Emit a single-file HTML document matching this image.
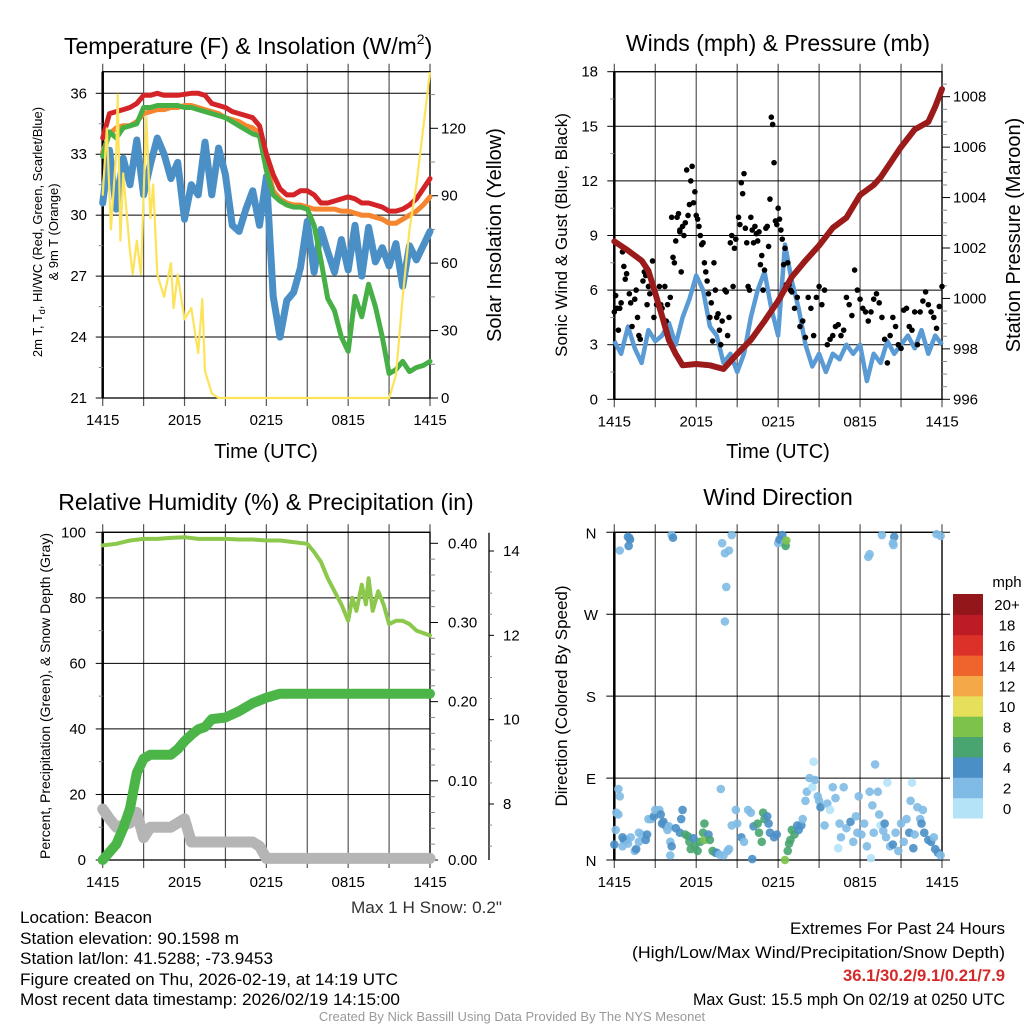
<!DOCTYPE html>
<html><head><meta charset="utf-8"><style>
html,body{margin:0;padding:0;background:#fff;}
svg{display:block;font-family:"Liberation Sans",Arial,sans-serif;}
</style></head><body>
<svg id="c" width="1024" height="1024" viewBox="0 0 1024 1024" xmlns="http://www.w3.org/2000/svg">
<rect width="1024" height="1024" fill="#fff"/>
<g id="g"></g>
<text x="64" y="54" font-size="23">Temperature (F) &amp; Insolation (W/m<tspan font-size="14" dy="-10">2</tspan><tspan dy="10">)</tspan></text>
<text x="778" y="51" font-size="23" text-anchor="middle">Winds (mph) &amp; Pressure (mb)</text>
<text x="266" y="510" font-size="23" text-anchor="middle">Relative Humidity (%) &amp; Precipitation (in)</text>
<text x="778" y="505" font-size="23" text-anchor="middle">Wind Direction</text>
<text x="266" y="458" font-size="20" text-anchor="middle">Time (UTC)</text>
<text x="778" y="458" font-size="20" text-anchor="middle">Time (UTC)</text>
<text transform="translate(42,232) rotate(-90)" font-size="13" text-anchor="middle">2m T, T<tspan font-size="9" dy="3">d</tspan><tspan dy="-3">, HI/WC (Red, Green, Scarlet/Blue)</tspan></text>
<text transform="translate(58,232) rotate(-90)" font-size="13" text-anchor="middle">&amp; 9m T (Orange)</text>
<text transform="translate(501,235) rotate(-90)" font-size="20" text-anchor="middle">Solar Insolation (Yellow)</text>
<text transform="translate(567,235) rotate(-90)" font-size="17" text-anchor="middle">Sonic Wind &amp; Gust (Blue, Black)</text>
<text transform="translate(1020,235) rotate(-90)" font-size="20" text-anchor="middle">Station Pressure (Maroon)</text>
<text transform="translate(50,696) rotate(-90)" font-size="14" text-anchor="middle">Percent, Precipitation (Green), &amp; Snow Depth (Gray)</text>
<text transform="translate(567,696) rotate(-90)" font-size="17" text-anchor="middle">Direction (Colored By Speed)</text>
<text x="351" y="913" font-size="17" textLength="151" lengthAdjust="spacingAndGlyphs" fill="#333">Max 1 H Snow: 0.2"</text>
<g font-size="17">
<text x="20" y="923" textLength="132" lengthAdjust="spacingAndGlyphs">Location: Beacon</text>
<text x="20" y="944" textLength="219" lengthAdjust="spacingAndGlyphs">Station elevation: 90.1598 m</text>
<text x="20" y="964" textLength="253" lengthAdjust="spacingAndGlyphs">Station lat/lon: 41.5288; -73.9453</text>
<text x="20" y="985" textLength="378" lengthAdjust="spacingAndGlyphs">Figure created on Thu, 2026-02-19, at 14:19 UTC</text>
<text x="20" y="1005" textLength="380" lengthAdjust="spacingAndGlyphs">Most recent data timestamp: 2026/02/19 14:15:00</text>
</g>
<g font-size="17">
<text x="790" y="934" textLength="215" lengthAdjust="spacingAndGlyphs">Extremes For Past 24 Hours</text>
<text x="632" y="958" textLength="373" lengthAdjust="spacingAndGlyphs">(High/Low/Max Wind/Precipitation/Snow Depth)</text>
<text x="843" y="981" textLength="162" lengthAdjust="spacingAndGlyphs" fill="#d42a2a" font-weight="bold">36.1/30.2/9.1/0.21/7.9</text>
<text x="693" y="1005" textLength="312" lengthAdjust="spacingAndGlyphs">Max Gust: 15.5 mph On 02/19 at 0250 UTC</text>
</g>
<text x="512" y="1021" font-size="13" fill="#999" text-anchor="middle">Created By Nick Bassill Using Data Provided By The NYS Mesonet</text>
</svg>
<script>
// ---------- data ----------
const xTickLabels=["1415","2015","0215","0815","1415"];
const tHalf=[0,0.5,1,1.5,2,2.5,3,3.5,4,4.5,5,5.5,6,6.5,7,7.5,8,8.5,9,9.5,10,10.5,11,11.5,12,12.5,13,13.5,14,14.5,15,15.5,16,16.5,17,17.5,18,18.5,19,19.5,20,20.5,21,21.5,22,22.5,23,23.5,24];
const tempRed=[33.8,35.0,35.1,35.2,35.3,35.5,35.9,35.9,36.0,35.9,35.9,35.9,35.95,36.0,36.0,35.9,35.5,35.4,35.3,35.1,35.0,34.9,34.8,34.4,33.0,32.0,31.3,31.0,31.0,31.2,31.2,31.0,30.6,30.6,30.7,30.8,30.9,30.8,30.6,30.6,30.5,30.4,30.2,30.2,30.3,30.5,30.8,31.3,31.8];
const tempOrange=[33.1,34.0,34.3,34.4,34.4,34.6,35.0,35.1,35.2,35.2,35.3,35.3,35.4,35.4,35.3,35.2,35.1,35.0,34.8,34.7,34.6,34.4,34.3,34.0,32.5,31.2,30.8,30.6,30.5,30.5,30.4,30.3,30.3,30.3,30.3,30.2,30.2,30.1,30.0,30.0,29.9,29.8,29.6,29.6,29.8,30.0,30.2,30.5,30.9];
const tempGreen=[32.9,34.1,33.8,34.3,34.4,34.5,35.3,35.3,35.4,35.4,35.4,35.4,35.3,35.3,35.2,35.1,35.0,34.9,34.8,34.6,34.4,34.2,34.0,33.9,32.2,31.0,30.7,30.5,30.4,30.4,30.3,29.5,27.8,25.9,25.3,24.0,23.3,26.0,25.0,26.6,25.5,24.0,22.2,22.4,22.8,22.3,22.5,22.6,22.8];
const tempBlue=[30.6,33.2,30.3,32.8,31.5,33.7,31.0,32.5,33.8,33.0,31.8,32.6,29.8,31.5,31.0,33.6,31.0,33.3,32.0,29.5,29.2,30.3,31.2,29.5,31.9,26.0,24.0,25.8,26.2,27.4,29.7,27.2,29.3,28.2,27.2,28.8,27.3,29.5,27.0,29.4,27.7,28.4,27.5,28.6,26.5,28.5,27.8,28.5,29.2];
const solarT=[0,0.3,0.6,1,1.1,1.3,1.5,2,2.2,2.5,2.8,3,3.2,3.5,3.7,4,4.5,5,5.2,5.5,6,6.5,7,7.3,7.5,8,8.5,21,21.5,22,22.5,23,23.5,24];
const solarV=[90,120,75,110,135,70,100,65,55,70,55,90,125,80,95,55,45,60,40,55,35,40,20,44,12,2,0,0,10,45,75,95,120,145];
const pressT=[0,1,2,2.5,3,3.5,4,4.5,5,6,7,8,9,10,11,12,13,14,15,16,17,18,18.5,19,19.5,20,21,22,23,23.5,24];
const pressV=[1002.26,1001.9,1001.5,1001.1,1000.2,999.3,998.35,997.8,997.35,997.4,997.35,997.2,997.8,998.35,999.1,999.9,1000.85,1001.5,1002.1,1002.8,1003.2,1004.1,1004.3,1004.5,1004.8,1005.2,1006.0,1006.7,1007.0,1007.6,1008.3];
const windV=[3.2,2.5,4.0,2.8,2.0,3.8,3.2,3.5,4.2,3.0,4.5,5.5,6.8,6.0,4.0,3.5,2.0,2.5,1.5,2.5,4.5,6.0,7.0,5.0,3.5,8.5,6.5,5.0,3.0,1.8,2.5,1.5,2.5,2.2,3.0,2.5,3.0,1.0,2.5,2.0,3.2,2.5,3.0,3.5,2.8,3.8,2.5,3.5,3.0];
const gustT=[0.0,0.1,0.2,0.3,0.4,0.5,0.6,0.7,0.8,0.9,1.1,1.2,1.3,1.5,1.6,1.7,1.8,1.9,2.1,2.2,2.3,2.4,2.5,2.6,2.8,2.9,3.1,3.3,3.4,3.5,3.7,3.8,3.9,4.1,4.2,4.3,4.4,4.5,4.6,4.7,4.8,4.8,4.9,5.0,5.1,5.2,5.3,5.4,5.5,5.6,5.7,5.8,5.9,6.0,6.1,6.2,6.3,6.4,6.5,6.6,6.7,6.8,6.9,7.0,7.1,7.2,7.3,7.4,7.5,7.6,7.7,7.8,7.9,8.1,8.2,8.3,8.4,8.5,8.6,8.7,8.8,8.9,9.1,9.2,9.3,9.4,9.5,9.6,9.7,9.8,9.9,10.0,10.1,10.2,10.3,10.4,10.5,10.6,10.7,10.8,10.9,11.0,11.1,11.2,11.3,11.4,11.5,11.6,11.7,11.8,11.9,12.0,12.1,12.2,12.3,12.4,12.5,12.6,12.7,12.8,12.9,13.0,13.2,13.4,13.6,13.8,14.0,14.2,14.4,14.6,14.8,15.0,15.2,15.4,15.6,15.8,16.0,16.2,16.4,16.6,16.8,17.0,17.2,17.4,17.6,17.8,18.0,18.2,18.4,18.6,18.8,19.0,19.2,19.4,19.6,19.8,20.0,20.2,20.4,20.6,20.8,21.0,21.2,21.4,21.6,21.8,22.0,22.2,22.4,22.6,22.8,23.0,23.2,23.4,23.6,23.8,24.0];
const gustV=[4.8,5.7,5.0,3.8,5.0,5.3,8.1,7.3,6.6,6.9,5.8,5.3,4.0,5.5,6.0,4.5,3.5,3.3,6.5,7.0,6.8,5.2,6.2,5.8,7.6,4.5,5.2,6.2,5.2,5.0,6.2,4.3,5.2,5.6,10.0,7.8,7.5,8.7,10.0,10.2,9.2,9.3,7.0,9.5,9.0,9.7,12.6,10.1,10.7,12.0,12.8,10.8,11.4,10.1,9.9,9.5,9.0,8.5,8.6,7.5,7.0,6.5,5.8,4.5,5.3,3.2,7.5,6.0,4.5,4.7,3.8,3.0,4.3,6.0,5.9,3.5,4.5,8.6,9.0,6.2,8.3,8.8,10.0,9.6,11.9,11.3,12.4,9.4,8.6,6.2,6.0,10.0,9.3,8.6,9.5,9.1,8.7,9.2,7.4,7.9,6.0,7.1,9.4,9.5,8.4,11.0,15.5,15.1,13.0,9.8,9.6,10.5,9.9,9.3,8.8,7.4,8.3,6.3,7.5,6.3,6.0,5.9,5.0,5.6,4.0,4.3,3.4,5.6,5.0,3.5,5.6,6.2,5.2,6.0,3.0,3.3,3.5,4.0,4.1,3.5,3.8,5.6,5.2,4.6,7.1,6.0,5.5,5.0,4.8,4.3,4.8,5.5,5.8,5.3,4.5,3.3,2.0,3.5,4.5,4.0,3.0,2.8,4.9,5.0,4.0,3.8,4.8,3.0,4.8,5.4,5.9,5.2,4.8,4.5,3.9,5.1,6.2,6.2,4.0,4.6,3.5,4.9,6.0];
const rhT=[0,1,2,3,4,5,6,7,8,9,10,11,12,13,14,15,15.5,16,16.5,17,17.5,18,18.3,18.6,19,19.3,19.5,19.8,20.2,20.6,21,21.5,22,22.5,23,24];
const rhV=[96,96.5,97.5,98,98,98.3,98.5,98,98,98,97.8,97.8,97.5,97.5,97,96.5,94,91,86,82,78,73,80,76,84,78,86,76,82,78,72,73,73,72,70,68.5];
const precipT=[0,0.5,1,1.5,2,2.5,3,3.5,4,5,5.5,6,6.5,7,7.5,8,9,10,11,12,13,24];
const precipV=[0,0.01,0.02,0.04,0.065,0.11,0.128,0.133,0.133,0.133,0.14,0.15,0.158,0.165,0.168,0.178,0.18,0.188,0.198,0.205,0.21,0.21];
const snowT=[0,0.5,1,2,2.5,3,3.5,5,6,6.5,11,11.5,12,24];
const snowV=[7.88,7.65,7.45,7.55,7.8,7.2,7.45,7.45,7.65,7.1,7.1,7.0,6.71,6.71];
const dirT=[1.0,1.1,1.15,0.4,1.05,4.2,4.3,7.9,8.6,8.1,8.4,8.2,8.1,12.0,12.1,12.3,12.5,12.55,12.6,18.6,18.7,19.6,20.5,20.4,20.45,23.6,23.9,
0.0,0.1,0.15,0.3,0.3,0.4,0.6,0.7,0.9,0.6,1.0,1.2,1.5,1.6,1.8,1.8,2.0,2.3,2.4,2.5,2.7,2.9,3.0,3.3,3.4,3.5,3.6,3.8,3.9,4.0,4.1,4.2,4.1,4.5,4.8,4.9,5.0,5.2,5.4,5.5,5.6,5.8,5.9,6.1,6.3,6.5,6.6,6.6,6.9,7.0,7.2,7.4,7.5,7.7,7.8,8.0,8.3,8.4,8.6,8.9,9.0,9.3,9.5,9.8,10.0,10.1,10.2,10.5,10.6,10.8,10.9,11.0,11.2,11.3,11.4,11.7,11.9,12.5,12.7,12.8,12.9,13.0,13.2,13.4,13.5,13.7,13.8,14.0,14.1,14.3,14.5,14.6,14.7,14.9,15.0,15.1,15.4,15.6,15.8,16.0,16.2,16.4,16.6,16.5,16.8,17.0,17.3,17.5,17.7,17.8,17.9,18.1,18.3,18.5,18.8,18.7,18.9,19.0,19.1,19.3,19.4,19.5,19.7,19.8,19.9,20.0,20.2,20.4,20.6,20.8,21.0,21.2,21.4,21.6,21.7,21.8,21.9,22.0,22.2,22.4,22.5,22.6,22.7,23.0,23.2,23.4,23.5,23.7,23.9];
const dirV=[355,354,352,340,345,357,354,348,357,337,340,300,262,348,352,357,348,345,351,333,336,357,355,348,346,358,356,
17,33,52,50,78,70,25,22,22,15,18,25,10,12,30,20,28,22,28,45,45,48,55,55,50,40,42,37,33,37,20,15,5,35,30,45,55,28,26,20,12,24,15,10,20,30,40,22,28,22,10,8,8,6,78,5,10,12,38,55,40,25,20,55,52,1,37,40,30,20,52,45,48,40,30,25,28,0,10,18,22,33,28,38,33,38,45,65,75,90,80,108,88,70,65,58,38,62,55,80,68,13,25,40,80,35,42,20,48,30,70,28,40,15,2,75,60,30,105,75,50,38,32,40,25,85,15,17,30,10,40,20,45,30,65,85,13,28,58,45,40,55,30,22,20,25,12,8,5];
const dirSpd=[4,4,4,2,4,2,4,2,2,2,2,2,2,2,4,4,2,6,8,2,2,2,4,2,2,2,2,
4,2,2,2,2,2,4,4,4,2,2,2,2,4,2,2,2,4,4,2,2,4,2,2,4,4,4,4,2,2,2,4,2,4,4,4,4,6,6,6,6,4,6,6,6,6,6,8,4,6,6,6,4,2,2,2,2,2,2,2,2,4,2,2,2,4,4,6,6,6,6,6,4,4,4,4,4,8,6,6,6,6,6,4,4,4,2,2,2,2,0,0,2,2,2,4,2,2,0,2,2,0,2,2,2,2,4,2,2,2,2,2,2,2,0,2,2,2,2,2,2,0,2,4,2,0,2,4,2,2,2,2,2,4,2,0,4,2,2,2,4,2,4,4,4,2,4,4,2];
const cbLabels=["0","2","4","6","8","10","12","14","16","18","20+"];
const cbColors=["#b4e2f7","#7fbbe4","#4a8fc6","#48a56f","#7cc24b","#e6df5a","#f5a847","#ef632c","#dc3128","#bd1b25","#93161b"];
// ---------- drawing ----------
const NS="http://www.w3.org/2000/svg";
const G=document.getElementById('g');
function el(tag,at,parent){const e=document.createElementNS(NS,tag);for(const k in at)e.setAttribute(k,at[k]);(parent||G).appendChild(e);return e;}
function lin(d0,d1,r0,r1){return v=>r0+(v-d0)/(d1-d0)*(r1-r0);}
function pathD(ts,vs,sx,sy){return ts.map((t,i)=>(i?'L':'M')+sx(t).toFixed(1)+','+sy(vs[i]).toFixed(1)).join('');}
function frame(name,x0,x1,y0,y1,sx){
  const g=el('g',{});
  
  
  for(let h=0;h<=24;h+=3){const x=sx(h);el('line',{x1:x,x2:x,y1:y0-8,y2:y1+8,stroke:'#555','stroke-width':1.2},g);}
  el('rect',{x:x0,y:y0,width:x1-x0,height:y1-y0,fill:'none',stroke:'#000','stroke-width':1.3},g);
  el('line',{x1:x0,x2:x0,y1:y0,y2:y1,stroke:'#000','stroke-width':2.5},g);
  xTickLabels.forEach((l,i)=>{const t=el('text',{x:sx(i*6),y:y1+27,'font-size':15,'text-anchor':'middle'},g);t.textContent=l;
    });
  return g;
}
function yAxis(g,vals,labels,sy,x0,x1,side,lx,minor){
  vals.forEach((v,i)=>{const y=sy(v);
    if(side==='L'){el('line',{x1:x0,x2:x1,y1:y,y2:y,stroke:'#000','stroke-width':1},g);el('line',{x1:x0-7,x2:x0,y1:y,y2:y,stroke:'#000'},g);}
    else el('line',{x1:x1,x2:x1+8,y1:y,y2:y,stroke:'#000'},g);
    const t=el('text',{x:lx,y:y+5,'font-size':15,'text-anchor':side==='L'?'end':'start'},g);t.textContent=labels[i];
    
  });
  (minor||[]).forEach(v=>{const y=sy(v);if(side==='L')el('line',{x1:x0-4,x2:x0,y1:y,y2:y,stroke:'#888'},g);else el('line',{x1:x1,x2:x1+5,y1:y,y2:y,stroke:'#888'},g);});
}
// Panel 1 temperature
(function(){
 const x0=102.7,x1=430,y0=71.7,y1=398;
 const sx=lin(0,24,x0,x1),sy=lin(21,36,y1,93.3),sr=lin(0,120,y1,128.3);
 const g=frame('temp',x0,x1,y0,y1,sx);
 yAxis(g,[21,24,27,30,33,36],["21","24","27","30","33","36"],sy,x0,x1,'L',87,[22.5,25.5,28.5,31.5,34.5]);
 yAxis(g,[0,30,60,90,120],["0","30","60","90","120"],sr,x0,x1,'R',441,[15,45,75,105,135]);
 const s=[['temp-blue',tempBlue,'#4a8fc6',7],['temp-orange',tempOrange,'#f5862f',5],['temp-green',tempGreen,'#46b046',5],['temp-red',tempRed,'#d42428',5]];
 s.forEach(([n,v,c,w])=>{const p=el('path',{d:pathD(tHalf,v,sx,sy),fill:'none',stroke:c,'stroke-width':w,'stroke-linejoin':'round','stroke-linecap':'round'});
   });
 const p=el('path',{d:pathD(solarT,solarV,sx,sr),fill:'none',stroke:'#fce35a','stroke-width':2.2,'stroke-linejoin':'round'});
 
})();
// Panel 2 winds
(function(){
 const x0=614.3,x1=942,y0=71.7,y1=399.3;
 const sx=lin(0,24,x0,x1),sy=lin(0,18,y1,y0),sp=lin(996,1008,y1,96.7);
 const g=frame('wind',x0,x1,y0,y1,sx);
 yAxis(g,[0,3,6,9,12,15,18],["0","3","6","9","12","15","18"],sy,x0,x1,'L',598,[1.5,4.5,7.5,10.5,13.5,16.5]);
 yAxis(g,[996,998,1000,1002,1004,1006,1008],["996","998","1000","1002","1004","1006","1008"],sp,x0,x1,'R',953,[996.5,997,997.5,998.5,999,999.5,1000.5,1001,1001.5,1002.5,1003,1003.5,1004.5,1005,1005.5,1006.5,1007,1007.5,1008.5]);
 let p=el('path',{d:pathD(tHalf,windV,sx,sy),fill:'none',stroke:'#5b9bd5','stroke-width':4.5,'stroke-linejoin':'round'});
 
 gustT.forEach((t,i)=>{const c=el('circle',{cx:sx(t),cy:sy(gustV[i]),r:2.8,fill:'#000'});
   });
 p=el('path',{d:pathD(pressT,pressV,sx,sp),fill:'none',stroke:'#9b1b1b','stroke-width':6,'stroke-linejoin':'round','stroke-linecap':'round'});
 
})();
// Panel 3 RH
(function(){
 const x0=102.7,x1=430,y0=532.3,y1=860;
 const sx=lin(0,24,x0,x1),sy=lin(0,100,y1,y0),sr=lin(0,0.4,y1,543.3),ss=lin(8,14,804,551);
 const g=frame('rh',x0,x1,y0,y1,sx);
 yAxis(g,[0,20,40,60,80,100],["0","20","40","60","80","100"],sy,x0,x1,'L',86,[10,30,50,70,90]);
 yAxis(g,[0,0.1,0.2,0.3,0.4],["0.00","0.10","0.20","0.30","0.40"],sr,x0,x1,'R',448,[0.02,0.04,0.06,0.08,0.12,0.14,0.16,0.18,0.22,0.24,0.26,0.28,0.32,0.34,0.36,0.38]);
 el('line',{x1:489,x2:489,y1:532.7,y2:860,stroke:'#000','stroke-width':1.3},g);
 [8,10,12,14].forEach(v=>{const y=ss(v);el('line',{x1:489,x2:494,y1:y,y2:y,stroke:'#000'},g);
   const t=el('text',{x:503,y:y+5,'font-size':15},g);t.textContent=String(v);
   });
 [7,7.5,8.5,9,9.5,10.5,11,11.5,12.5,13,13.5].forEach(v=>{const y=ss(v);el('line',{x1:489,x2:492,y1:y,y2:y,stroke:'#888'},g);});
 let p=el('path',{d:pathD(snowT,snowV,sx,ss),fill:'none',stroke:'#b5b5b5','stroke-width':11,'stroke-linejoin':'round','stroke-linecap':'round'});
 
 p=el('path',{d:pathD(precipT,precipV,sx,sr),fill:'none',stroke:'#4bb548','stroke-width':10,'stroke-linejoin':'round','stroke-linecap':'round'});
 
 p=el('path',{d:pathD(rhT,rhV,sx,sy),fill:'none',stroke:'#8cc84b','stroke-width':4,'stroke-linejoin':'round','stroke-linecap':'round'});
 
})();
// Panel 4 direction
(function(){
 const x0=614.3,x1=942,y0=532.3,y1=860;
 const sx=lin(0,24,x0,x1),sy=lin(0,360,y1,y0);
 const g=frame('dir',x0,x1,y0,y1,sx);
 [0,90,180,270,360].forEach((v,i)=>{const y=sy(v);el('line',{x1:x0-8,x2:x1+8,y1:y,y2:y,stroke:'#000'},g);
   const t=el('text',{x:591,y:y+6,'font-size':15,'text-anchor':'middle'},g);t.textContent=["N","E","S","W","N"][i];
   });
 dirT.forEach((t,i)=>{const c=el('circle',{cx:sx(t),cy:sy(dirV[i]),r:4.3,fill:cbColors[Math.min(10,Math.floor(dirSpd[i]/2))],opacity:0.9});
   });
 const cb=el('g',{});
 
 const bh=(818-594)/11;
 cbColors.forEach((c,i)=>{const y=818-(i+1)*bh;el('rect',{x:953,y:y,width:30,height:bh+0.5,fill:c},cb);
   const t=el('text',{x:1007,y:y+bh/2+6,'font-size':15,'text-anchor':'middle'},cb);t.textContent=cbLabels[i];
   });
 const t=el('text',{x:1007,y:587,'font-size':15,'text-anchor':'middle'},cb);t.textContent='mph';
 
})();
</script>
</body></html>
